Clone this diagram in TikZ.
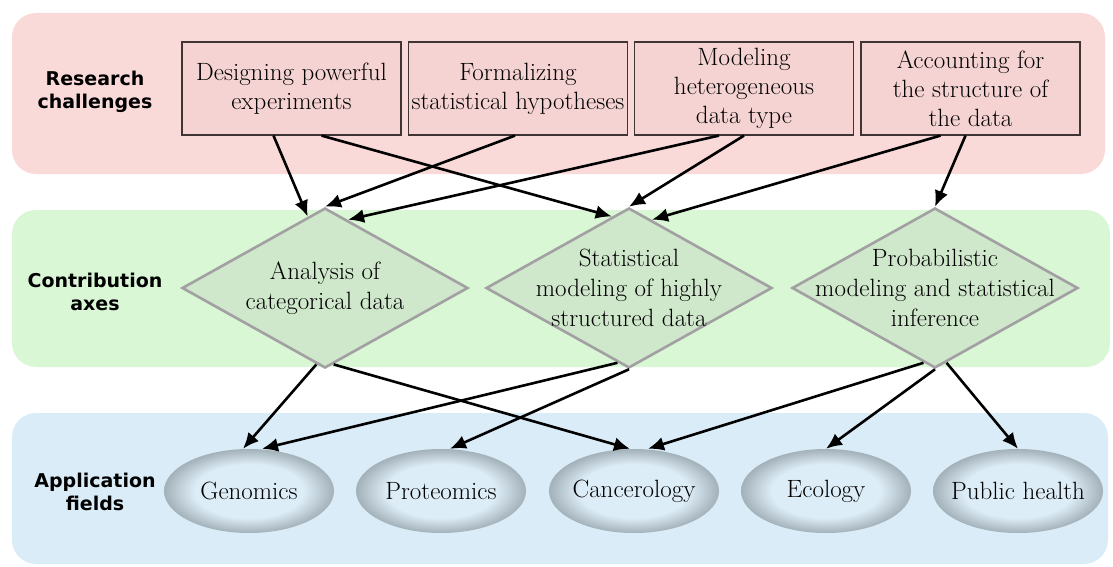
\documentclass[tikz,border=0pt]{standalone}
\usepackage{fontspec}
\newfontfamily\headfont{DejaVu Sans}
\usepackage{xcolor}
\usepackage{tikz}
\usetikzlibrary{shapes.geometric, arrows.meta, calc}

\definecolor{bandred}{HTML}{FAD9D9}
\definecolor{bandgreen}{HTML}{D9F6D5}
\definecolor{bandblue}{HTML}{DAECF8}
\definecolor{boxfill}{HTML}{F6D3D3}
\definecolor{boxline}{HTML}{3F3535}
\definecolor{diafill}{HTML}{CFE7CB}
\definecolor{dialine}{HTML}{A2A0A2}
\definecolor{ellin}{HTML}{DDEDF7}
\definecolor{ellout}{HTML}{A3B1B9}
\pgfdeclareradialshading{ellglow}{\pgfpoint{0bp}{0bp}}{color(0bp)=(ellin); color(16bp)=(ellin); color(25bp)=(ellout); color(50bp)=(ellout)}

\begin{document}
\begin{tikzpicture}[
  x=1pt, y=-1pt,
  band/.style={rounded corners=24pt},
  rowlabel/.style={align=center, font=\headfont\bfseries\fontsize{19}{23}\selectfont},
  challenge/.style={rectangle, draw=boxline, line width=1.2pt, fill=boxfill,
    minimum width=219pt, minimum height=93pt, inner sep=1pt, align=center,
    font=\fontsize{25}{29}\selectfont},
  contrib/.style={diamond, draw=dialine, line width=2.6pt, fill=diafill,
    minimum width=286pt, minimum height=160pt, inner sep=0pt},
  contribtext/.style={align=center, font=\fontsize{25}{30}\selectfont},
  field/.style={ellipse, shading=ellglow, minimum width=170pt,
    minimum height=84pt, inner sep=0pt},
  fieldtext/.style={font=\fontsize{25}{29}\selectfont},
  arrow/.style={-{Latex[length=16pt, width=14pt]}, line width=2.6pt},
]
\useasboundingbox (0,0) rectangle (1113,567);

% Bands
\fill[bandred, band] (12,13) rectangle (1105,174);
\fill[bandgreen, band] (12,210) rectangle (1110,367);
\fill[bandblue, band] (12,413) rectangle (1108,564);

% Row labels
\node[rowlabel] (lres) at (95,92) {Research\\challenges};
\node[rowlabel] (lcon) at (95,292) {Contribution\\axes};
\node[rowlabel] (lapp) at (95,492) {Application\\fields};

% Research challenges
\node[challenge] (b1) at (291.5,88.5) {Designing powerful\\experiments};
\node[challenge] (b2) at (518,88.5) {Formalizing\\statistical hypotheses};
\node[challenge] (b3) at (744,88.5) {Modeling\\heterogeneous\\data type};
\node[challenge] (b4) at (970.5,88.5) {Accounting for\\the structure of\\the data};

% Contribution axes
\node[contrib, label={[contribtext]center:{Analysis of\\categorical data}}] (d1) at (325,288) {};
\node[contrib, label={[contribtext]center:{Statistical\\modeling of highly\\structured data}}] (d2) at (629,288) {};
\node[contrib, label={[contribtext]center:{Probabilistic\\modeling and statistical\\inference}}] (d3) at (935,288) {};

% Application fields
\node[field, label={[fieldtext]center:Genomics}] (gen) at (249,491) {};
\node[field, label={[fieldtext]center:Proteomics}] (pro) at (441,491) {};
\node[field, label={[fieldtext]center:Cancerology}] (can) at (634,491) {};
\node[field, label={[fieldtext]center:Ecology}] (eco) at (826,491) {};
\node[field, label={[fieldtext]center:Public health}] (pub) at (1018,491) {};

% Challenges to axes
\draw[arrow] ($(b1.south)+(-18,0)$) -- ($(d1.north)!0.12!(d1.west)$);
\draw[arrow] ($(b1.south)+(30,0)$) -- ($(d2.north)!0.12!(d2.west)$);
\draw[arrow] ($(b2.south)+(-3,0)$) -- (d1.north);
\draw[arrow] ($(b3.south)+(-25,0)$) -- ($(d1.north)!0.16!(d1.east)$);
\draw[arrow] (b3.south) -- (d2.north);
\draw[arrow] ($(b4.south)+(-30,0)$) -- ($(d2.north)!0.16!(d2.east)$);
\draw[arrow] ($(b4.south)+(-5,0)$) -- (d3.north);

% Axes to fields
\draw[arrow] ($(d1.south)!0.06!(d1.west)$) -- ($(gen.north)+(-6,0)$);
\draw[arrow] ($(d1.south)!0.06!(d1.east)$) -- ($(can.north)+(-4,0)$);
\draw[arrow] ($(d2.south)!0.08!(d2.west)$) -- ($(gen.north)+(13,0)$);
\draw[arrow] (d2.south) -- ($(pro.north)+(9,0)$);
\draw[arrow] ($(d3.south)!0.08!(d3.west)$) -- ($(can.north)+(14,0)$);
\draw[arrow] (d3.south) -- (eco.north);
\draw[arrow] ($(d3.south)!0.08!(d3.east)$) -- (pub.north);

\end{tikzpicture}
\end{document}
